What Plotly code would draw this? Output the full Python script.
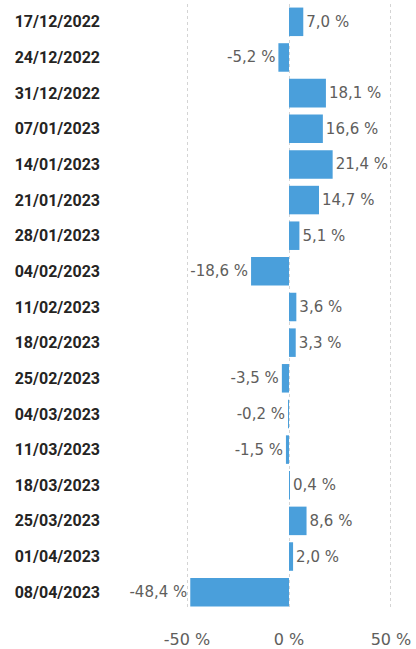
import plotly.graph_objects as go

dates = ["17/12/2022", "24/12/2022", "31/12/2022", "07/01/2023", "14/01/2023", "21/01/2023",
         "28/01/2023", "04/02/2023", "11/02/2023", "18/02/2023", "25/02/2023", "04/03/2023",
         "11/03/2023", "18/03/2023", "25/03/2023", "01/04/2023", "08/04/2023"]
changes = [7.0, -5.2, 18.1, 16.6, 21.4, 14.7, 5.1, -18.6, 3.6, 3.3, -3.5, -0.2, -1.5, 0.4, 8.6, 2.0, -48.4]
tick_vals = [-50, 0, 50]
tick_text = ["-50 %", "0 %", "50 %"]

VAL_FONT = "DejaVu Sans"
LBL_FONT = "Roboto"

fig = go.Figure(go.Bar(
    x=changes, y=dates, orientation="h",
    marker=dict(color="#4a9fdb", line=dict(width=0)),
    width=0.8,
    texttemplate="%{x:.1f} %", textposition="outside",
    textfont=dict(family=VAL_FONT, size=15, color="#605e5c"),
    cliponaxis=False,
))

fig.update_layout(
    width=416, height=649,
    margin=dict(l=186, r=24, t=4, b=39, autoexpand=False),
    plot_bgcolor="white", paper_bgcolor="white",
    separators=", ",
    showlegend=False,
    xaxis=dict(range=[-50.5, 50.5], tickvals=tick_vals, ticktext=tick_text,
               showgrid=True, gridcolor="#d4d4d4", griddash="dot", gridwidth=1,
               zeroline=False, showline=False, ticks="", automargin=False,
               tickfont=dict(family=VAL_FONT, size=16, color="#605e5c"),
               ticklabelstandoff=18),
    yaxis=dict(autorange="reversed", showgrid=False, zeroline=False, showline=False, ticks="",
               automargin=False,
               tickfont=dict(family=LBL_FONT, size=16, color="#252423", weight="bold"),
               ticklabelstandoff=85),
)

fig.write_html("out.html", config={"displayModeBar": False},
               post_script="document.body.style.margin='0';")
